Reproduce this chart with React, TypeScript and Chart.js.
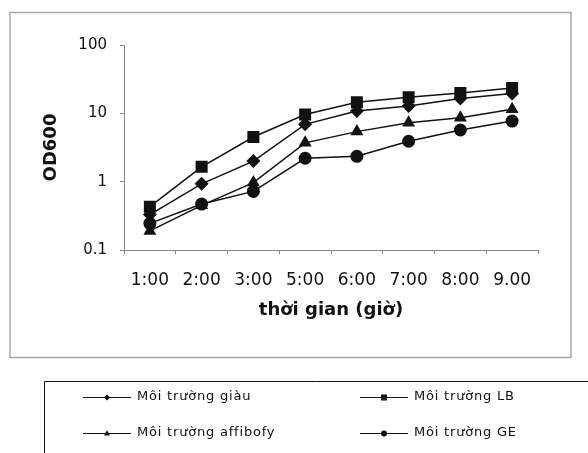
import React, { useEffect, useRef } from "react";
import { Chart, registerables } from "chart.js";

Chart.register(...registerables);

const timeLabels = ["1:00", "2:00", "3:00", "5:00", "6:00", "7:00", "8:00", "9.00"];
const giauValues = [0.33, 0.93, 2.0, 6.9, 10.8, 12.8, 16.5, 19.5];
const lbValues = [0.43, 1.65, 4.5, 9.6, 14.5, 17.2, 19.8, 23.5];
const affibofyValues = [0.19, 0.45, 0.97, 3.7, 5.4, 7.3, 8.6, 11.5];
const geValues = [0.245, 0.47, 0.72, 2.2, 2.35, 3.9, 5.7, 7.7];
const yTickValues = [0.1, 1, 10, 100];
const seriesNames = ["Môi trường giàu", "Môi trường LB", "Môi trường affibofy", "Môi trường GE"];

const FONT = "'DejaVu Sans', sans-serif";

function drawMarker(ctx: CanvasRenderingContext2D, style: string, x: number, y: number, r: number) {
  ctx.beginPath();
  if (style === "rectRot") {
    ctx.moveTo(x, y - r);
    ctx.lineTo(x + r, y);
    ctx.lineTo(x, y + r);
    ctx.lineTo(x - r, y);
    ctx.closePath();
  } else if (style === "rect") {
    ctx.rect(x - r, y - r, 2 * r, 2 * r);
  } else if (style === "triangle") {
    ctx.moveTo(x, y - r * 1.1);
    ctx.lineTo(x + r, y + r * 0.7);
    ctx.lineTo(x - r, y + r * 0.7);
    ctx.closePath();
  } else {
    ctx.arc(x, y, r, 0, Math.PI * 2);
  }
  ctx.fill();
}

const framePlugin = {
  id: "frameAndLegend",
  beforeDraw(chart: any) {
    const ctx = chart.ctx as CanvasRenderingContext2D;
    ctx.save();
    ctx.fillStyle = "#ffffff";
    ctx.fillRect(0, 0, chart.width, chart.height);
    ctx.strokeStyle = "#a8a8a8";
    ctx.lineWidth = 1.5;
    ctx.strokeRect(10, 12.5, 561, 345);
    ctx.restore();
  },
  afterDraw(chart: any) {
    const ctx = chart.ctx as CanvasRenderingContext2D;
    ctx.save();
    ctx.strokeStyle = "#111";
    ctx.lineWidth = 1;
    ctx.beginPath();
    ctx.moveTo(44.5, 470);
    ctx.lineTo(44.5, 381.5);
    ctx.lineTo(600, 381.5);
    ctx.stroke();
    const cols = [83, 360];
    const rows = [397, 433];
    chart.data.datasets.forEach((ds: any, i: number) => {
      const cx = cols[i % 2];
      const cy = rows[Math.floor(i / 2)];
      ctx.strokeStyle = "#111";
      ctx.lineWidth = 1;
      ctx.beginPath();
      ctx.moveTo(cx, cy + 0.5);
      ctx.lineTo(cx + 48, cy + 0.5);
      ctx.stroke();
      ctx.fillStyle = "#111";
      drawMarker(ctx, ds.pointStyle, cx + 24, cy + 0.5, 3);
      ctx.font = `13px ${FONT}`;
      (ctx as any).letterSpacing = "0.8px";
      ctx.textAlign = "left";
      ctx.textBaseline = "middle";
      ctx.fillText(ds.label, cx + 54, cy);
      (ctx as any).letterSpacing = "0px";
    });
    ctx.restore();
  },
};

export default function App() {
  const ref = useRef<HTMLCanvasElement | null>(null);
  useEffect(() => {
    if (!ref.current) return;
    const mk = (label: string, data: number[], pointStyle: string, r: number) => ({
      label,
      data,
      borderColor: "#111",
      backgroundColor: "#111",
      borderWidth: 1.5,
      pointStyle,
      pointRadius: r,
      pointBorderWidth: 0,
      pointBackgroundColor: "#111",
      tension: 0,
    });
    const chart = new Chart(ref.current, {
      type: "line",
      data: {
        labels: timeLabels,
        datasets: [
          mk(seriesNames[0], giauValues, "rectRot", 7),
          mk(seriesNames[1], lbValues, "rect", 8.5),
          mk(seriesNames[2], affibofyValues, "triangle", 7.5),
          mk(seriesNames[3], geValues, "circle", 6.5),
        ],
      },
      options: {
        responsive: false,
        animation: false,
        layout: { padding: { left: 41, right: 50, top: 45, bottom: 132 } },
        plugins: { legend: { display: false }, tooltip: { enabled: false } },
        scales: {
          x: {
            type: "category",
            offset: true,
            grid: {
              offset: true,
              drawOnChartArea: false,
              drawTicks: true,
              tickLength: 4,
              color: "#888",
            },
            border: { color: "#888", width: 1 },
            ticks: {
              color: "#111",
              padding: 16,
              font: { family: FONT, size: 17 },
              maxRotation: 0,
              autoSkip: false,
            },
            title: {
              display: true,
              text: "thời gian (giờ)",
              color: "#111",
              padding: 0,
              font: { family: FONT, size: 18, weight: "bold" },
            },
            afterFit: (s: any) => {
              s.height = 71;
            },
          },
          y: {
            type: "logarithmic",
            min: 0.1,
            max: 100,
            grid: {
              drawOnChartArea: false,
              drawTicks: true,
              tickLength: 4,
              color: "#888",
            },
            border: { color: "#888", width: 1 },
            afterBuildTicks: (s: any) => {
              s.ticks = yTickValues.map((v) => ({ value: v, major: true }));
            },
            ticks: {
              color: "#111",
              padding: 13,
              font: { family: FONT, size: 15 },
              callback: (v: any) => String(v),
            },
            title: {
              display: true,
              text: "OD600",
              color: "#111",
              padding: 0,
              font: { family: FONT, size: 18, weight: "bold" },
            },
            afterFit: (s: any) => {
              s.width = 83;
            },
          },
        },
      },
      plugins: [framePlugin],
    });
    return () => chart.destroy();
  }, []);
  return (
    <div style={{ position: "fixed", left: 0, top: 0, width: 588, height: 453, background: "#fff" }}>
      <canvas ref={ref} width={588} height={453} style={{ display: "block" }} />
    </div>
  );
}
